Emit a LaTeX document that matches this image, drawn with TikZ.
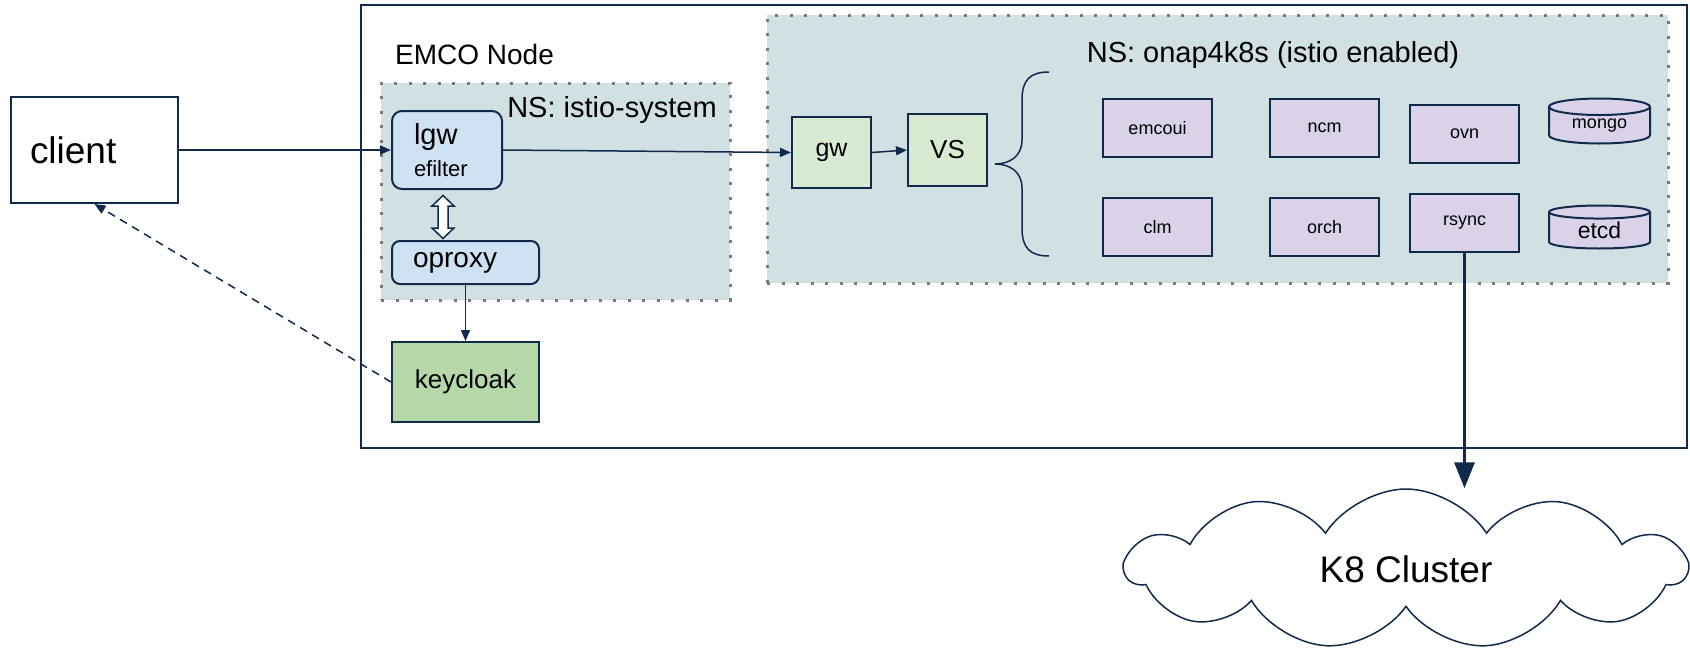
\documentclass[tikz,border=0pt]{standalone}
\usepackage{fontspec}
\setmainfont{Liberation Sans}
\usetikzlibrary{positioning}
\usetikzlibrary{shapes.geometric, shapes.symbols, arrows.meta}

\definecolor{navy}{HTML}{102A4C}
\definecolor{dotgray}{HTML}{7A7A7A}
\definecolor{nsfill}{HTML}{D0E0E3}
\definecolor{bluefill}{HTML}{CFE2F3}
\definecolor{greenfill}{HTML}{D9EAD3}
\definecolor{kcfill}{HTML}{B6D7A8}
\definecolor{purplefill}{HTML}{D9D2E9}

\newcommand{\fsz}[1]{\fontsize{#1}{#1}\selectfont}

\tikzset{
  nsbox/.style={draw=dotgray, line width=3pt, dash pattern=on 3pt off 11.5pt, fill=nsfill},
  plainbox/.style={draw=navy, line width=2pt, inner sep=0pt},
  pod/.style={plainbox, fill=purplefill, minimum width=109, minimum height=58, font=\fsz{18}},
  istiobox/.style={plainbox, fill=bluefill, rounded corners=10pt},
  gwbox/.style={plainbox, fill=greenfill, minimum width=79, minimum height=71},
  db/.style={cylinder, shape border rotate=90, draw=navy, line width=2pt, fill=purplefill,
    aspect=0.3, minimum width=101, inner sep=0pt, anchor=shape center},
  conn/.style={draw=navy, line width=1.5pt, -{Triangle[length=11pt,width=9pt]}},
}

\begin{document}
\begin{tikzpicture}[x=1pt, y=-1pt]
\useasboundingbox (0,0) rectangle (1690,651);

% EMCO node and namespaces
\node[draw=navy, line width=1.5pt, minimum width=1326, minimum height=443] (emco) at (1024,226.5) {};
\node[font=\fsz{28}, inner sep=0pt, anchor=west] (emcolabel) at (395,54) {EMCO Node};
\node[nsbox, minimum width=349, minimum height=217] (istions) at (555.5,191.5) {};
\node[nsbox, minimum width=901, minimum height=268] (onapns) at (1217.5,149) {};
\node[font=\fsz{29}, inner sep=0pt] (istiolabel) at (612,110) {NS: istio-system};
\node[font=\fsz{29}, inner sep=0pt] (onaplabel) at (1273,55) {NS: onap4k8s (istio enabled)};

% client side
\node[plainbox, minimum width=167, minimum height=106, text width=129, align=left, font=\fsz{37}] (client) at (94.5,150) {client};
\node[istiobox, minimum width=110, minimum height=78, text width=66, align=left, font=\fsz{29}] (lgw) at (447,150)
  {lgw\\[3pt]{\fsz{22}efilter}};
\node[istiobox, rounded corners=8pt, minimum width=147, minimum height=43, text width=105, align=left, font=\fsz{28}] (oproxy) at (465.5,262.5) {oproxy};
\coordinate (lgwproxy) at (443,217);
\draw[navy, line width=1.5pt, fill=white, shift={(lgwproxy)}]
  (0,-21.5) -- (11,-11) -- (5,-11) -- (5,11) -- (11,11) -- (0,21.5)
  -- (-11,11) -- (-5,11) -- (-5,-11) -- (-11,-11) -- cycle;
\node[plainbox, fill=kcfill, minimum width=147, minimum height=80, font=\fsz{26}] (keycloak) at (465.5,382) {keycloak};

% onap4k8s services
\node[gwbox, font=\fsz{25}] (gw) at (831.5,152.5) {gw};
\node[gwbox, minimum height=72, font=\fsz{26}] (vs) at (947.5,150) {VS};
\draw[navy, line width=1.5pt] (1049,72) .. controls (1030,72) and (1022,80) .. (1022,100) -- (1022,140)
  .. controls (1022,156) and (1010,164) .. (995,164)
  .. controls (1010,164) and (1022,172) .. (1022,188) -- (1022,228)
  .. controls (1022,248) and (1030,256) .. (1049,256);

\node[pod] (emcoui) at (1157.5,128) {emcoui};
\node[pod] (ncm) at (1324.5,128) {ncm};
\node[pod] (ovn) at (1464.5,134) {ovn};
\node[pod] (clm) at (1157.5,227) {clm};
\node[pod] (orch) at (1324.5,227) {orch};
\node[pod] (rsync) at (1464.5,223) {rsync};
\node[db, minimum height=45, font=\fsz{18}] (mongo) at (1599.5,121) {mongo};
\node[db, minimum height=43, font=\fsz{23}] (etcd) at (1599.5,227) {etcd};

% cluster
\node[cloud, draw=navy, line width=1.5pt, cloud puffs=11, cloud puff arc=115, cloud ignores aspect,
  minimum width=560, minimum height=160, font=\fsz{37}] (cluster) at (1406,569) {K8 Cluster};

% connectors
\draw[conn] (client.east) -- (lgw.west);
\draw[conn] (lgw.east) -- (gw.west);
\draw[conn] (gw.east) -- (vs.west);
\draw[conn] (oproxy.south) -- (keycloak.north);
\draw[conn, dash pattern=on 8pt off 6pt] (keycloak.west) -- (client.south);
\draw[draw=navy, line width=3.5pt, -{Triangle[length=26pt,width=20pt]}] (rsync.south) -- (rsync.south |- cluster.north);
\end{tikzpicture}
\end{document}
